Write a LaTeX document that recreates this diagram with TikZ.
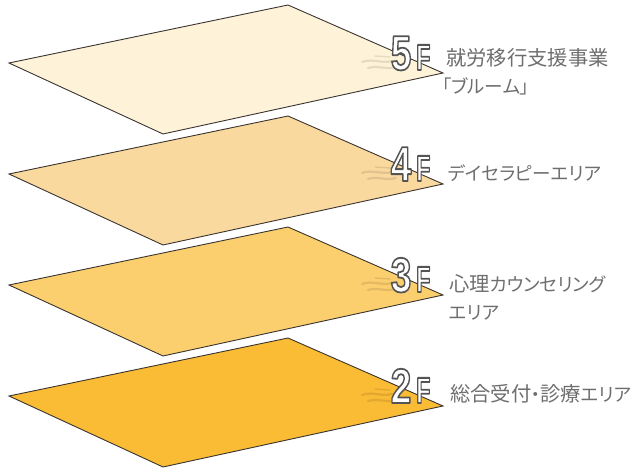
\documentclass[tikz,border=0pt]{standalone}
\usepackage{fontspec}
\newfontfamily\jpfont[RawFeature=+palt]{Noto Sans CJK JP}
\newfontfamily\numfont{Liberation Sans Bold}
\definecolor{plateA}{HTML}{FEF3D8}
\definecolor{plateB}{HTML}{FAD99F}
\definecolor{plateC}{HTML}{FBCF6E}
\definecolor{plateD}{HTML}{FABB35}
\definecolor{edgecol}{HTML}{3A3430}
\definecolor{labelcol}{HTML}{6E6E6E}
\newcommand\K[1]{{\fontsize{20.3}{28}\selectfont #1}}
\newcommand\outl[1]{\special{pdf:literal direct 2 Tr 1.8 w 1 j 0.33 0.33 0.33 RG 1 g}#1\special{pdf:literal direct 0 Tr}}
\tikzset{
  plate/.style={draw=edgecol, line width=0.9pt, line join=miter},
  label/.style={anchor=west, inner sep=0pt, text=labelcol, font=\jpfont\fontsize{18.5}{28}\selectfont, align=left},
  bignum/.style={anchor=base west, inner sep=0pt, text=white, font=\numfont\fontsize{49}{49}\selectfont},
  smallnum/.style={anchor=base west, inner sep=0pt, text=white, font=\numfont\fontsize{36.5}{36}\selectfont},
  streak/.style={line width=2.2pt, line cap=round, draw opacity=0.12, draw=black!70!brown},
}
\begin{document}
\begin{tikzpicture}[x=1pt,y=-1pt]
\useasboundingbox (0,0) rectangle (633,470);
\foreach \k/\col/\fl in {0/plateA/5,1/plateB/4,2/plateC/3,3/plateD/2}{
  \begin{scope}[yshift=-111*\k pt]
    \filldraw[plate, fill=\col] (9,63) -- (288,5) -- (443,73) -- (163,134) -- cycle;
    \draw[streak] (362,62) .. controls (372,58) and (382,64) .. (392,61);
    \draw[streak] (368,68) .. controls (378,65) and (386,70) .. (396,67);
    \draw[streak, line width=1.4pt] (375,56) -- (390,57);
    \node[bignum] (dig\fl) at (390.5,70) {\outl{\scalebox{0.76}[1]{\fl}}};
    \node[smallnum] (ef\fl) at (416,70) {\outl{\scalebox{0.64}[1]{F}}};
  \end{scope}
}
\node[label] (l5) at (446,72) {\K{就労移行支援事業}\\[-0.5pt]\hspace{-4pt}「ブルーム」};
\node[label] (l4) at (448,173) {デイセラピーエリア};
\node[label] (l3) at (449,297) {\K{心理}カウンセリング\\エリア};
\node[label] (l2) at (450,394) {\K{総合受付}・\K{診療}エリア};
\end{tikzpicture}
\end{document}
